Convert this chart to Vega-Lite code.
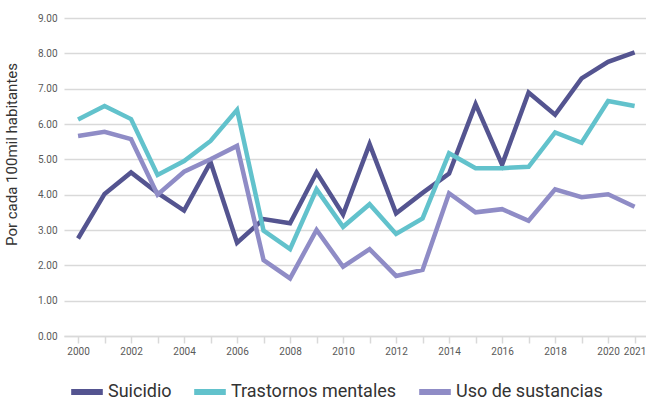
{
  "$schema": "https://vega.github.io/schema/vega-lite/v6.json",
  "width": 582,
  "height": 318,
  "autosize": {"type": "none"},
  "padding": {"left": 64, "top": 18, "right": 0, "bottom": 67},
  "background": "white",
  "config": {
    "view": {"stroke": null},
    "font": "Roboto"
  },
  "data": {
    "values": [
      {"year": 2000, "serie": "Suicidio", "valor": 2.76},
      {"year": 2001, "serie": "Suicidio", "valor": 4.02},
      {"year": 2002, "serie": "Suicidio", "valor": 4.63},
      {"year": 2003, "serie": "Suicidio", "valor": 4.05},
      {"year": 2004, "serie": "Suicidio", "valor": 3.55},
      {"year": 2005, "serie": "Suicidio", "valor": 4.92},
      {"year": 2006, "serie": "Suicidio", "valor": 2.64},
      {"year": 2007, "serie": "Suicidio", "valor": 3.31},
      {"year": 2008, "serie": "Suicidio", "valor": 3.19},
      {"year": 2009, "serie": "Suicidio", "valor": 4.63},
      {"year": 2010, "serie": "Suicidio", "valor": 3.44},
      {"year": 2011, "serie": "Suicidio", "valor": 5.43},
      {"year": 2012, "serie": "Suicidio", "valor": 3.47},
      {"year": 2013, "serie": "Suicidio", "valor": 4.05},
      {"year": 2014, "serie": "Suicidio", "valor": 4.6},
      {"year": 2015, "serie": "Suicidio", "valor": 6.56},
      {"year": 2016, "serie": "Suicidio", "valor": 4.85},
      {"year": 2017, "serie": "Suicidio", "valor": 6.89},
      {"year": 2018, "serie": "Suicidio", "valor": 6.26},
      {"year": 2019, "serie": "Suicidio", "valor": 7.29},
      {"year": 2020, "serie": "Suicidio", "valor": 7.76},
      {"year": 2021, "serie": "Suicidio", "valor": 8.03},
      {"year": 2000, "serie": "Trastornos mentales", "valor": 6.13},
      {"year": 2001, "serie": "Trastornos mentales", "valor": 6.51},
      {"year": 2002, "serie": "Trastornos mentales", "valor": 6.14},
      {"year": 2003, "serie": "Trastornos mentales", "valor": 4.56},
      {"year": 2004, "serie": "Trastornos mentales", "valor": 4.95},
      {"year": 2005, "serie": "Trastornos mentales", "valor": 5.52},
      {"year": 2006, "serie": "Trastornos mentales", "valor": 6.4},
      {"year": 2007, "serie": "Trastornos mentales", "valor": 2.98},
      {"year": 2008, "serie": "Trastornos mentales", "valor": 2.46},
      {"year": 2009, "serie": "Trastornos mentales", "valor": 4.15},
      {"year": 2010, "serie": "Trastornos mentales", "valor": 3.09},
      {"year": 2011, "serie": "Trastornos mentales", "valor": 3.73},
      {"year": 2012, "serie": "Trastornos mentales", "valor": 2.89},
      {"year": 2013, "serie": "Trastornos mentales", "valor": 3.33},
      {"year": 2014, "serie": "Trastornos mentales", "valor": 5.17},
      {"year": 2015, "serie": "Trastornos mentales", "valor": 4.75},
      {"year": 2016, "serie": "Trastornos mentales", "valor": 4.75},
      {"year": 2017, "serie": "Trastornos mentales", "valor": 4.79},
      {"year": 2018, "serie": "Trastornos mentales", "valor": 5.76},
      {"year": 2019, "serie": "Trastornos mentales", "valor": 5.47},
      {"year": 2020, "serie": "Trastornos mentales", "valor": 6.65},
      {"year": 2021, "serie": "Trastornos mentales", "valor": 6.51},
      {"year": 2000, "serie": "Uso de sustancias", "valor": 5.66},
      {"year": 2001, "serie": "Uso de sustancias", "valor": 5.78},
      {"year": 2002, "serie": "Uso de sustancias", "valor": 5.57},
      {"year": 2003, "serie": "Uso de sustancias", "valor": 4.0},
      {"year": 2004, "serie": "Uso de sustancias", "valor": 4.65},
      {"year": 2005, "serie": "Uso de sustancias", "valor": 5.0},
      {"year": 2006, "serie": "Uso de sustancias", "valor": 5.38},
      {"year": 2007, "serie": "Uso de sustancias", "valor": 2.15},
      {"year": 2008, "serie": "Uso de sustancias", "valor": 1.63},
      {"year": 2009, "serie": "Uso de sustancias", "valor": 3.0},
      {"year": 2010, "serie": "Uso de sustancias", "valor": 1.96},
      {"year": 2011, "serie": "Uso de sustancias", "valor": 2.46},
      {"year": 2012, "serie": "Uso de sustancias", "valor": 1.7},
      {"year": 2013, "serie": "Uso de sustancias", "valor": 1.87},
      {"year": 2014, "serie": "Uso de sustancias", "valor": 4.04},
      {"year": 2015, "serie": "Uso de sustancias", "valor": 3.5},
      {"year": 2016, "serie": "Uso de sustancias", "valor": 3.59},
      {"year": 2017, "serie": "Uso de sustancias", "valor": 3.26},
      {"year": 2018, "serie": "Uso de sustancias", "valor": 4.15},
      {"year": 2019, "serie": "Uso de sustancias", "valor": 3.93},
      {"year": 2020, "serie": "Uso de sustancias", "valor": 4.01},
      {"year": 2021, "serie": "Uso de sustancias", "valor": 3.66}
    ]
  },
  "mark": {"type": "line", "strokeWidth": 4.5, "strokeJoin": "miter", "strokeCap": "butt"},
  "encoding": {
    "x": {
      "field": "year",
      "type": "quantitative",
      "scale": {"domain": [1999.47, 2021.43], "nice": false, "zero": false},
      "axis": {
        "title": null,
        "values": [2000,2001,2002,2003,2004,2005,2006,2007,2008,2009,2010,2011,2012,2013,2014,2015,2016,2017,2018,2019,2020,2021],
        "format": "d",
        "labelExpr": "(datum.value % 2 == 0 || datum.value == 2021) ? datum.label : ''",
        "labelOverlap": false,
        "labelFontSize": 10,
        "labelColor": "#595959",
        "labelPadding": 3,
        "grid": false,
        "domainColor": "#d9d9d9",
        "domainWidth": 1.5,
        "tickColor": "#d9d9d9",
        "tickWidth": 1.5,
        "tickSize": 7
      }
    },
    "y": {
      "field": "valor",
      "type": "quantitative",
      "scale": {"domain": [0, 9], "nice": false},
      "axis": {
        "title": "Por cada 100mil habitantes",
        "titleFontSize": 15,
        "titleFontWeight": "normal",
        "titleColor": "#333333",
        "titleX": -45,
        "titleY": 136,
        "values": [0,1,2,3,4,5,6,7,8,9],
        "format": ".2f",
        "labelFontSize": 10,
        "labelColor": "#595959",
        "labelPadding": 7,
        "domain": false,
        "ticks": false,
        "gridColor": "#d9d9d9",
        "gridWidth": 1.5
      }
    },
    "color": {
      "field": "serie",
      "type": "nominal",
      "scale": {
        "domain": ["Suicidio", "Trastornos mentales", "Uso de sustancias"],
        "range": ["#545490", "#62c2cc", "#8f8cc6"]
      },
      "legend": {
        "title": null,
        "orient": "none",
        "direction": "horizontal",
        "legendX": 4,
        "legendY": 355,
        "symbolType": "stroke",
        "symbolSize": 1000,
        "symbolStrokeWidth": 6,
        "labelFontSize": 18,
        "labelColor": "#333333",
        "labelOffset": 2,
        "labelLimit": 400,
        "columnPadding": 10
      }
    }
  }
}
